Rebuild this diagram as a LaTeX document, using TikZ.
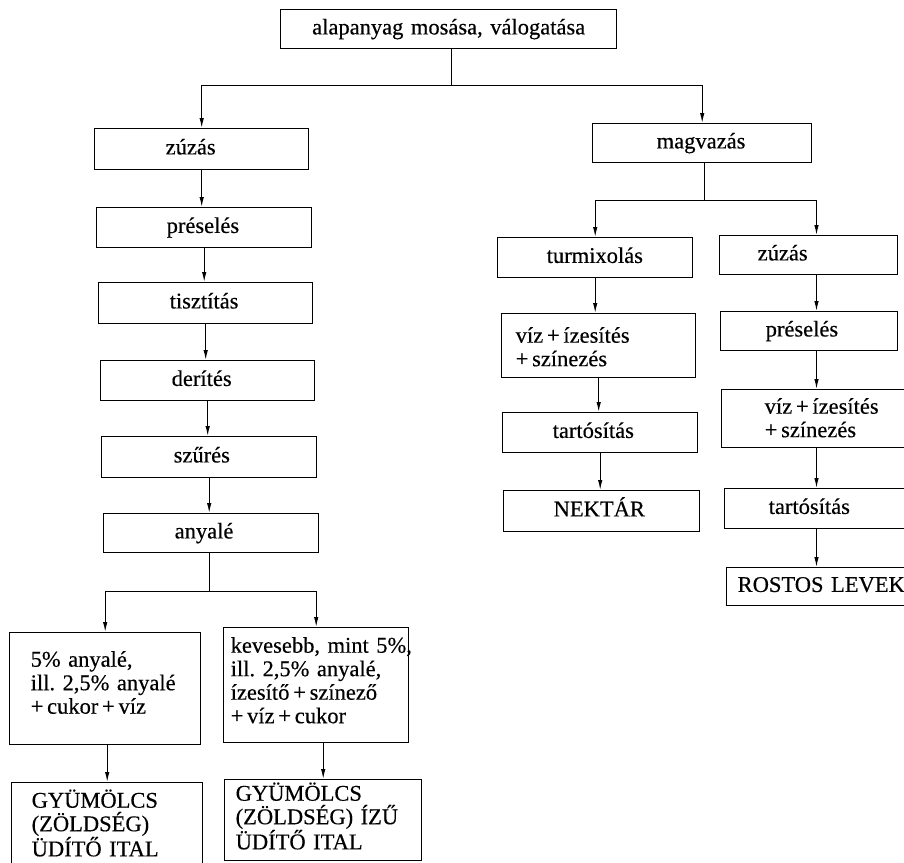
\documentclass[tikz,border=0pt]{standalone}
\usepackage{fontspec}
\setmainfont{Liberation Serif}[FakeBold=0.35]
\usetikzlibrary{arrows.meta}
\hyphenpenalty=10000
\exhyphenpenalty=10000
\frenchspacing
\begin{document}
\begin{tikzpicture}[x=1pt,y=-1pt,
  every node/.style={font=\fontsize{22.5}{23.5}\selectfont},
  % box: width, height, left padding, text width
  box/.style n args={4}{draw, line width=1.4pt, anchor=north west, align=left,
    inner ysep=0pt, minimum width=#1, minimum height=#2, inner xsep=#3, text width=#4,
    text height=15.5pt, text depth=5pt},
  conn/.style={line width=1.1pt},
  arr/.style={conn, -{Latex[length=10pt,width=4.5pt]}}]
\useasboundingbox (0,0) rectangle (904,862);
\clip (0,0) rectangle (904,862);

% starting step
\node[box={336pt}{39pt}{10pt}{316pt}, align=center] (top) at (280,9) {alapanyag mosása, válogatása};

% clear juice branch
\node[box={214pt}{41pt}{71pt}{72pt}] (zuz1)   at (94,128)  {zúzás};
\node[box={215pt}{40pt}{70pt}{75pt}] (pres1)  at (96,207)  {préselés};
\node[box={214pt}{41pt}{71pt}{72pt}] (tiszt)  at (98,282)  {tisztítás};
\node[box={214pt}{40pt}{71pt}{72pt}] (derit)  at (100,360) {derítés};
\node[box={215pt}{41pt}{72pt}{71pt}] (szures) at (101,436) {szűrés};
\node[box={215pt}{39pt}{71pt}{73pt}] (anyale) at (103,513) {anyalé};

\node[box={191pt}{112pt}{21pt}{149pt}, text depth=59.5pt] (five) at (9,632)
  {5\%~anyalé,\\ ill.~2,5\%~anyalé\\ +\,cukor\,+\,víz};
\node[box={185pt}{115pt}{7pt}{171pt}, text depth=80.5pt] (kev) at (223,627)
  {kevesebb,~mint~5\%,\\ ill.~2,5\%~anyalé,\\ ízesítő\,+\,színező\\ +\,víz\,+\,cukor};
\node[box={191pt}{90pt}{20pt}{151pt}, text depth=55.5pt] (gy1) at (11,782)
  {GYÜMÖLCS\\ (ZÖLDSÉG)\\ ÜDÍTŐ~ITAL};
\node[box={197pt}{81pt}{11pt}{175pt}, text depth=54.5pt] (gy2) at (224,779)
  {GYÜMÖLCS\\ (ZÖLDSÉG)~ÍZŰ\\ ÜDÍTŐ~ITAL};

% pulpy branch
\node[box={219pt}{39pt}{64pt}{91pt}] (mag) at (592,123) {magvazás};

\node[box={195pt}{40pt}{49pt}{97pt}] (turm) at (497,237) {turmixolás};
\node[box={194pt}{64pt}{14pt}{166pt}, text depth=21.5pt] (vizL) at (501,313)
  {víz\,+\,ízesítés\\ +\,színezés};
\node[box={195pt}{40pt}{50pt}{95pt}] (tartL) at (502,412) {tartósítás};
\node[box={196pt}{41pt}{50pt}{96pt}] (nekt)  at (503,490) {NEKTÁR};

\node[box={178pt}{39pt}{38pt}{102pt}] (zuzR)  at (719,235) {zúzás};
\node[box={177pt}{39pt}{45pt}{87pt}]  (presR) at (720,311) {préselés};
\node[box={210pt}{58pt}{43pt}{124pt}, text depth=25.5pt] (vizR) at (721,389)
  {víz\,+\,ízesítés\\ +\,színezés};
\node[box={210pt}{40pt}{44pt}{122pt}] (tartR) at (724,488) {tartósítás};
\node[box={210pt}{38pt}{11pt}{188pt}] (rost)  at (726,567) {ROSTOS LEVEK};

% junction points and the right-hand flow line
\coordinate (j1) at (451.5,85.5);
\coordinate (j2) at (209.5,591.5);
\coordinate (j3) at (704.5,200.5);
\coordinate (xr) at (816.5,0);

% first split
\draw[conn] (top.south -| j1) -- (j1);
\draw[arr] (j1) -| (zuz1.north);
\draw[arr] (j1) -| (mag.north);

% left column
\draw[arr] (zuz1.south)  -- (zuz1.south |- pres1.north);
\draw[arr] (pres1.south) -- (pres1.south |- tiszt.north);
\draw[arr] (tiszt.south) -- (tiszt.south |- derit.north);
\draw[arr] (derit.south) -- (derit.south |- szures.north);
\draw[arr] (szures.south) -- (szures.south |- anyale.north);

\draw[conn] (anyale.south -| j2) -- (j2);
\draw[arr] (j2) -| (five.north);
\draw[arr] (j2) -| (kev.north);
\draw[arr] (five.south -| gy1.north) -- (gy1.north);
\draw[arr] (kev.south -| gy2.north) -- (gy2.north);

% right part
\draw[conn] (mag.south -| j3) -- (j3);
\draw[arr] (j3) -| (turm.north);
\draw[arr] (j3) -| (zuzR.north -| xr);

\draw[arr] (turm.south) -- (turm.south |- vizL.north);
\draw[arr] (vizL.south) -- (vizL.south |- tartL.north);
\draw[arr] (tartL.south) -- (tartL.south |- nekt.north);

\draw[arr] (zuzR.south -| xr)  -- (presR.north -| xr);
\draw[arr] (presR.south -| xr) -- (vizR.north -| xr);
\draw[arr] (vizR.south -| xr)  -- (tartR.north -| xr);
\draw[arr] (tartR.south -| xr) -- (rost.north -| xr);
\end{tikzpicture}
\end{document}
